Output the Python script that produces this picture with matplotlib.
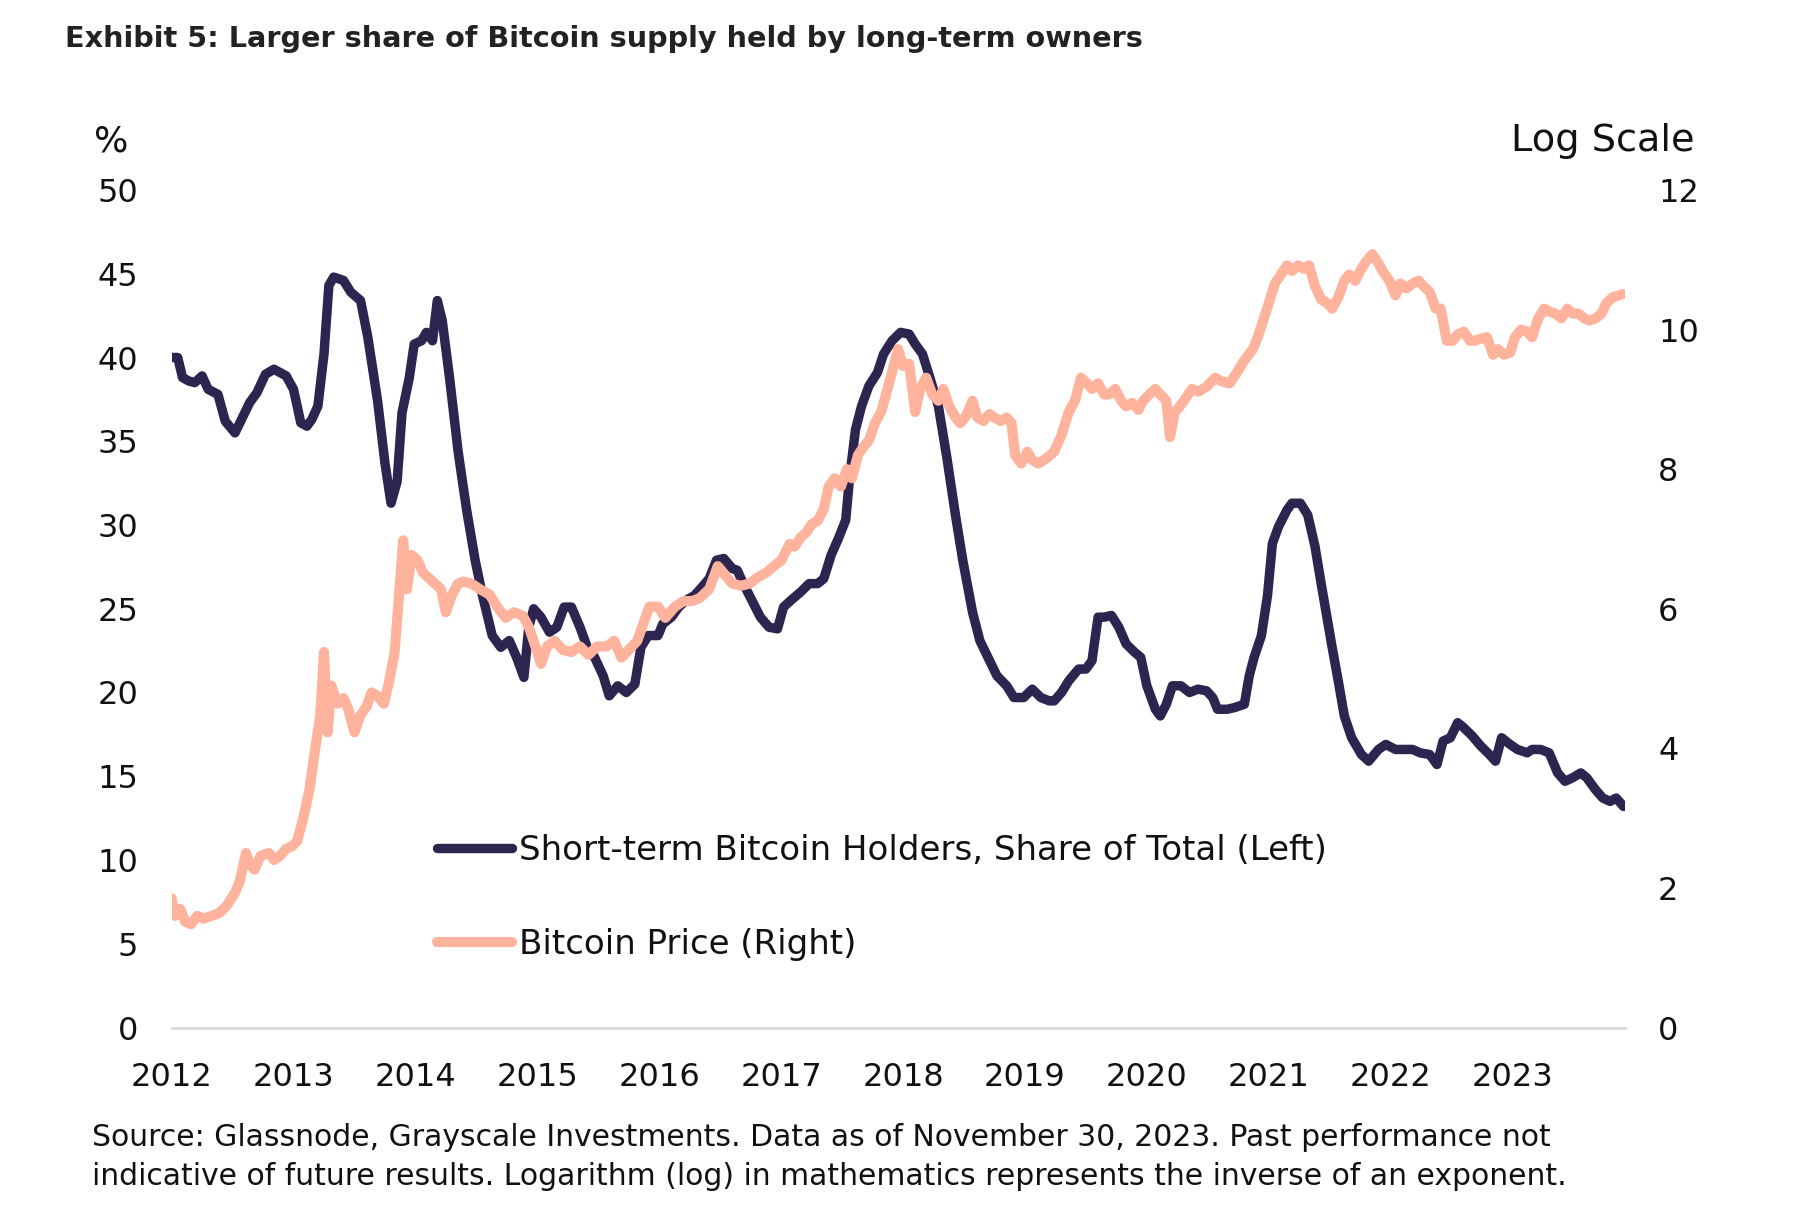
import matplotlib
matplotlib.use("Agg")
import matplotlib.pyplot as plt
from matplotlib.lines import Line2D

# ---------------- data (decimal years) ----------------
sth_years = [2012.00, 2012.05, 2012.09, 2012.14, 2012.19, 2012.25, 2012.30, 2012.38, 2012.44, 2012.52,
             2012.58, 2012.64, 2012.70, 2012.77, 2012.84, 2012.94, 2013.00, 2013.06, 2013.11, 2013.15,
             2013.20, 2013.25, 2013.29, 2013.33, 2013.41, 2013.47, 2013.55, 2013.61, 2013.69, 2013.75,
             2013.80, 2013.85, 2013.89, 2013.95, 2013.99, 2014.05, 2014.09, 2014.14, 2014.18, 2014.22,
             2014.28, 2014.35, 2014.42, 2014.49, 2014.55, 2014.63, 2014.70, 2014.77, 2014.83, 2014.89,
             2014.93, 2014.97, 2015.03, 2015.10, 2015.16, 2015.22, 2015.28, 2015.35, 2015.41, 2015.47,
             2015.54, 2015.59, 2015.66, 2015.73, 2015.80, 2015.85, 2015.91, 2015.99, 2016.03, 2016.10,
             2016.16, 2016.22, 2016.29, 2016.34, 2016.41, 2016.47, 2016.53, 2016.60, 2016.64, 2016.69,
             2016.76, 2016.83, 2016.90, 2016.97, 2017.02, 2017.08, 2017.16, 2017.23, 2017.30, 2017.35,
             2017.41, 2017.47, 2017.53, 2017.56, 2017.61, 2017.66, 2017.72, 2017.79, 2017.84, 2017.91,
             2017.98, 2018.05, 2018.10, 2018.16, 2018.22, 2018.29, 2018.36, 2018.43, 2018.49, 2018.57,
             2018.63, 2018.71, 2018.77, 2018.85, 2018.91, 2018.99, 2019.06, 2019.13, 2019.20, 2019.24,
             2019.30, 2019.36, 2019.44, 2019.50, 2019.55, 2019.60, 2019.65, 2019.71, 2019.77, 2019.83,
             2019.90, 2019.95, 2020.00, 2020.07, 2020.11, 2020.16, 2020.21, 2020.28, 2020.35, 2020.42,
             2020.49, 2020.54, 2020.58, 2020.66, 2020.72, 2020.80, 2020.84, 2020.88, 2020.94, 2020.99,
             2021.03, 2021.08, 2021.15, 2021.19, 2021.26, 2021.32, 2021.38, 2021.43, 2021.47, 2021.52,
             2021.57, 2021.62, 2021.68, 2021.76, 2021.82, 2021.90, 2021.96, 2022.04, 2022.11, 2022.18,
             2022.24, 2022.32, 2022.38, 2022.43, 2022.49, 2022.55, 2022.60, 2022.67, 2022.74, 2022.81,
             2022.86, 2022.91, 2022.98, 2023.04, 2023.12, 2023.16, 2023.23, 2023.30, 2023.37, 2023.43,
             2023.49, 2023.56, 2023.61, 2023.68, 2023.74, 2023.80, 2023.85, 2023.91]
sth_share = [40.0, 40.0, 38.8, 38.6, 38.5, 38.9, 38.1, 37.8, 36.2, 35.5,
             36.4, 37.3, 37.9, 39.0, 39.3, 38.9, 38.1, 36.1, 35.9, 36.3,
             37.1, 40.2, 44.3, 44.8, 44.6, 43.9, 43.4, 41.2, 37.4, 33.7,
             31.3, 32.6, 36.7, 38.8, 40.8, 41.0, 41.5, 41.0, 43.4, 42.2,
             38.8, 34.4, 30.9, 27.9, 25.8, 23.4, 22.7, 23.1, 22.1, 20.9,
             23.9, 25.0, 24.5, 23.6, 23.9, 25.1, 25.1, 23.9, 22.7, 22.1,
             21.0, 19.8, 20.4, 20.0, 20.5, 22.7, 23.4, 23.4, 24.1, 24.5,
             25.1, 25.5, 25.8, 26.2, 26.8, 27.9, 28.0, 27.4, 27.3, 26.5,
             25.5, 24.5, 23.9, 23.8, 25.1, 25.5, 26.0, 26.5, 26.5, 26.8,
             28.2, 29.2, 30.3, 32.7, 35.7, 37.1, 38.3, 39.1, 40.2, 41.0,
             41.5, 41.4, 40.8, 40.2, 38.8, 37.1, 34.0, 30.6, 27.9, 24.8,
             23.1, 21.9, 21.0, 20.4, 19.7, 19.7, 20.2, 19.7, 19.5, 19.5,
             20.0, 20.7, 21.4, 21.4, 21.9, 24.5, 24.5, 24.6, 23.9, 22.9,
             22.4, 22.1, 20.4, 19.0, 18.6, 19.3, 20.4, 20.4, 20.0, 20.2,
             20.1, 19.7, 19.0, 19.0, 19.1, 19.3, 21.0, 22.1, 23.4, 25.8,
             28.9, 29.9, 30.9, 31.3, 31.3, 30.6, 28.7, 26.5, 24.8, 22.7,
             20.7, 18.6, 17.3, 16.3, 15.9, 16.6, 16.9, 16.6, 16.6, 16.6,
             16.4, 16.3, 15.7, 17.1, 17.3, 18.2, 17.9, 17.4, 16.8, 16.3,
             15.9, 17.3, 16.9, 16.6, 16.4, 16.6, 16.6, 16.4, 15.2, 14.7,
             14.9, 15.2, 14.9, 14.2, 13.7, 13.5, 13.7, 13.2]

price_years = [2012.00, 2012.03, 2012.07, 2012.11, 2012.16, 2012.21, 2012.26, 2012.33, 2012.39, 2012.45,
               2012.52, 2012.56, 2012.61, 2012.64, 2012.68, 2012.73, 2012.80, 2012.84, 2012.89, 2012.94,
               2012.99, 2013.03, 2013.08, 2013.13, 2013.17, 2013.22, 2013.25, 2013.28, 2013.31, 2013.36,
               2013.41, 2013.45, 2013.50, 2013.55, 2013.60, 2013.64, 2013.69, 2013.74, 2013.78, 2013.83,
               2013.88, 2013.90, 2013.93, 2013.97, 2014.02, 2014.06, 2014.11, 2014.16, 2014.21, 2014.25,
               2014.30, 2014.35, 2014.39, 2014.46, 2014.53, 2014.61, 2014.67, 2014.74, 2014.81, 2014.88,
               2014.93, 2015.00, 2015.03, 2015.08, 2015.14, 2015.21, 2015.28, 2015.35, 2015.42, 2015.49,
               2015.57, 2015.63, 2015.69, 2015.75, 2015.82, 2015.87, 2015.92, 2015.99, 2016.05, 2016.13,
               2016.20, 2016.27, 2016.33, 2016.41, 2016.48, 2016.52, 2016.60, 2016.67, 2016.74, 2016.80,
               2016.88, 2016.94, 2017.00, 2017.07, 2017.11, 2017.16, 2017.21, 2017.25, 2017.30, 2017.35,
               2017.39, 2017.44, 2017.49, 2017.54, 2017.58, 2017.63, 2017.68, 2017.72, 2017.77, 2017.82,
               2017.86, 2017.91, 2017.96, 2018.00, 2018.05, 2018.10, 2018.14, 2018.19, 2018.24, 2018.29,
               2018.33, 2018.38, 2018.43, 2018.47, 2018.52, 2018.57, 2018.61, 2018.66, 2018.71, 2018.75,
               2018.80, 2018.85, 2018.89, 2018.92, 2018.97, 2019.02, 2019.06, 2019.11, 2019.18, 2019.24,
               2019.30, 2019.36, 2019.41, 2019.46, 2019.51, 2019.55, 2019.60, 2019.65, 2019.69, 2019.74,
               2019.79, 2019.83, 2019.88, 2019.93, 2019.97, 2020.02, 2020.07, 2020.11, 2020.16, 2020.19,
               2020.23, 2020.27, 2020.32, 2020.37, 2020.42, 2020.49, 2020.56, 2020.61, 2020.68, 2020.74,
               2020.80, 2020.87, 2020.91, 2020.96, 2021.01, 2021.05, 2021.10, 2021.15, 2021.19, 2021.24,
               2021.29, 2021.33, 2021.38, 2021.43, 2021.48, 2021.52, 2021.57, 2021.62, 2021.66, 2021.71,
               2021.76, 2021.80, 2021.85, 2021.90, 2021.94, 2021.99, 2022.04, 2022.08, 2022.13, 2022.18,
               2022.23, 2022.27, 2022.32, 2022.37, 2022.41, 2022.46, 2022.51, 2022.55, 2022.60, 2022.65,
               2022.69, 2022.74, 2022.79, 2022.84, 2022.88, 2022.93, 2022.98, 2023.02, 2023.07, 2023.12,
               2023.16, 2023.21, 2023.26, 2023.30, 2023.35, 2023.40, 2023.45, 2023.49, 2023.54, 2023.59,
               2023.63, 2023.68, 2023.73, 2023.77, 2023.82, 2023.87, 2023.91]
price_log = [1.85, 1.60, 1.70, 1.52, 1.48, 1.60, 1.56, 1.60, 1.64, 1.74,
             1.93, 2.10, 2.50, 2.35, 2.26, 2.46, 2.50, 2.40, 2.46, 2.56,
             2.60, 2.67, 3.00, 3.40, 3.90, 4.48, 5.38, 4.23, 4.90, 4.64,
             4.72, 4.56, 4.23, 4.48, 4.60, 4.80, 4.75, 4.64, 4.92, 5.38,
             6.52, 6.98, 6.28, 6.77, 6.69, 6.52, 6.44, 6.36, 6.28, 5.95,
             6.20, 6.36, 6.39, 6.36, 6.28, 6.20, 6.03, 5.87, 5.95, 5.90,
             5.74, 5.38, 5.21, 5.46, 5.54, 5.41, 5.38, 5.46, 5.34, 5.46,
             5.46, 5.54, 5.30, 5.41, 5.54, 5.79, 6.03, 6.03, 5.87, 6.03,
             6.11, 6.11, 6.15, 6.28, 6.61, 6.52, 6.36, 6.33, 6.36, 6.44,
             6.52, 6.61, 6.69, 6.93, 6.89, 7.02, 7.10, 7.21, 7.26, 7.43,
             7.75, 7.87, 7.75, 8.00, 7.87, 8.20, 8.33, 8.41, 8.66, 8.82,
             9.07, 9.39, 9.72, 9.48, 9.51, 8.82, 9.15, 9.31, 9.07, 8.98,
             9.15, 8.90, 8.74, 8.66, 8.77, 8.98, 8.74, 8.69, 8.79, 8.74,
             8.69, 8.74, 8.66, 8.20, 8.08, 8.25, 8.13, 8.08, 8.16, 8.25,
             8.49, 8.82, 8.98, 9.31, 9.23, 9.15, 9.23, 9.07, 9.07, 9.15,
             8.98, 8.90, 8.95, 8.85, 8.98, 9.07, 9.15, 9.07, 8.98, 8.46,
             8.82, 8.90, 9.02, 9.15, 9.11, 9.18, 9.31, 9.26, 9.23, 9.39,
             9.56, 9.72, 9.89, 10.16, 10.43, 10.66, 10.79, 10.92, 10.84, 10.92,
             10.87, 10.92, 10.62, 10.43, 10.38, 10.30, 10.46, 10.70, 10.79, 10.70,
             10.87, 10.98, 11.08, 10.95, 10.82, 10.70, 10.49, 10.66, 10.59, 10.66,
             10.70, 10.62, 10.54, 10.30, 10.30, 9.84, 9.84, 9.93, 9.97, 9.84,
             9.84, 9.87, 9.89, 9.64, 9.72, 9.64, 9.67, 9.89, 10.00, 9.97,
             9.89, 10.16, 10.30, 10.26, 10.23, 10.16, 10.30, 10.23, 10.23, 10.16,
             10.13, 10.16, 10.23, 10.38, 10.46, 10.49, 10.51]

year_ticks = list(range(2012, 2024))
left_ticks = [0, 5, 10, 15, 20, 25, 30, 35, 40, 45, 50]
right_ticks = [0, 2, 4, 6, 8, 10, 12]

title = "Exhibit 5: Larger share of Bitcoin supply held by long-term owners"
label_sth = "Short-term Bitcoin Holders, Share of Total (Left)"
label_price = "Bitcoin Price (Right)"
footnote = ("Source: Glassnode, Grayscale Investments. Data as of November 30, 2023. Past performance not\n"
            "indicative of future results. Logarithm (log) in mathematics represents the inverse of an exponent.")

# ---------------- style ----------------
DARK = "#2D2450"
SALMON = "#FFB39C"
TXT = "#111111"
plt.rcParams["font.family"] = ["DejaVu Sans"]

W, H = 1794, 1206
fig = plt.figure(figsize=(W / 100, H / 100), dpi=100)
ax = fig.add_axes([171.6 / W, 1 - 1027.5 / H, (1624.7 - 171.6) / W, (1027.5 - 190.0) / H])
ax2 = ax.twinx()

LW_DARK, LW_SALMON = 6.8, 7.3
ax.plot(sth_years, sth_share, color=DARK, lw=LW_DARK, solid_joinstyle="round", solid_capstyle="round", zorder=3)
ax2.plot(price_years, price_log, color=SALMON, lw=LW_SALMON, solid_joinstyle="round", solid_capstyle="round", zorder=3)

ax.set_xlim(2012, 2023.92)
ax.set_ylim(0, 50)
ax2.set_ylim(0, 12)
ax.set_yticks(left_ticks)
ax2.set_yticks(right_ticks)
ax.set_xticks(year_ticks)
ax.set_xticklabels([str(y) for y in year_ticks])

for a in (ax, ax2):
    for s in a.spines.values():
        s.set_visible(False)
ax.spines["bottom"].set_visible(True)
ax.spines["bottom"].set_color("#D9D9D9")
ax.spines["bottom"].set_linewidth(2)

ax.tick_params(axis="both", length=0, labelsize=23, colors=TXT)
ax.tick_params(axis="y", pad=24)
ax.tick_params(axis="x", pad=25)
ax2.tick_params(axis="y", length=0, labelsize=23, colors=TXT, pad=24)

fig.text(111 / W, 1 - 141 / H, "%", fontsize=26, color=TXT, ha="center", va="center")
fig.text(1694 / W, 1 - 141 / H, "Log Scale", fontsize=27.5, color=TXT, ha="right", va="center")
fig.text(65 / W, 1 - 39 / H, title, fontsize=20.7, fontweight="bold", color="#222222", ha="left", va="center")
fig.text(92 / W, 1 - 1157 / H, footnote, fontsize=21.5, color=TXT, ha="left", va="center", linespacing=1.45)

handles = [Line2D([], [], color=DARK, lw=LW_DARK, solid_capstyle="round"),
           Line2D([], [], color=SALMON, lw=LW_SALMON, solid_capstyle="round")]
leg = ax.legend(handles, [label_sth, label_price], loc="upper left",
                bbox_to_anchor=(437 / W, 1 - 834 / H), bbox_transform=fig.transFigure,
                frameon=False, fontsize=24.5, handlelength=2.2, handletextpad=0.22,
                labelspacing=1.78, borderpad=0, borderaxespad=0)
for t in leg.get_texts():
    t.set_color(TXT)

fig.savefig("out.png", dpi=100)
